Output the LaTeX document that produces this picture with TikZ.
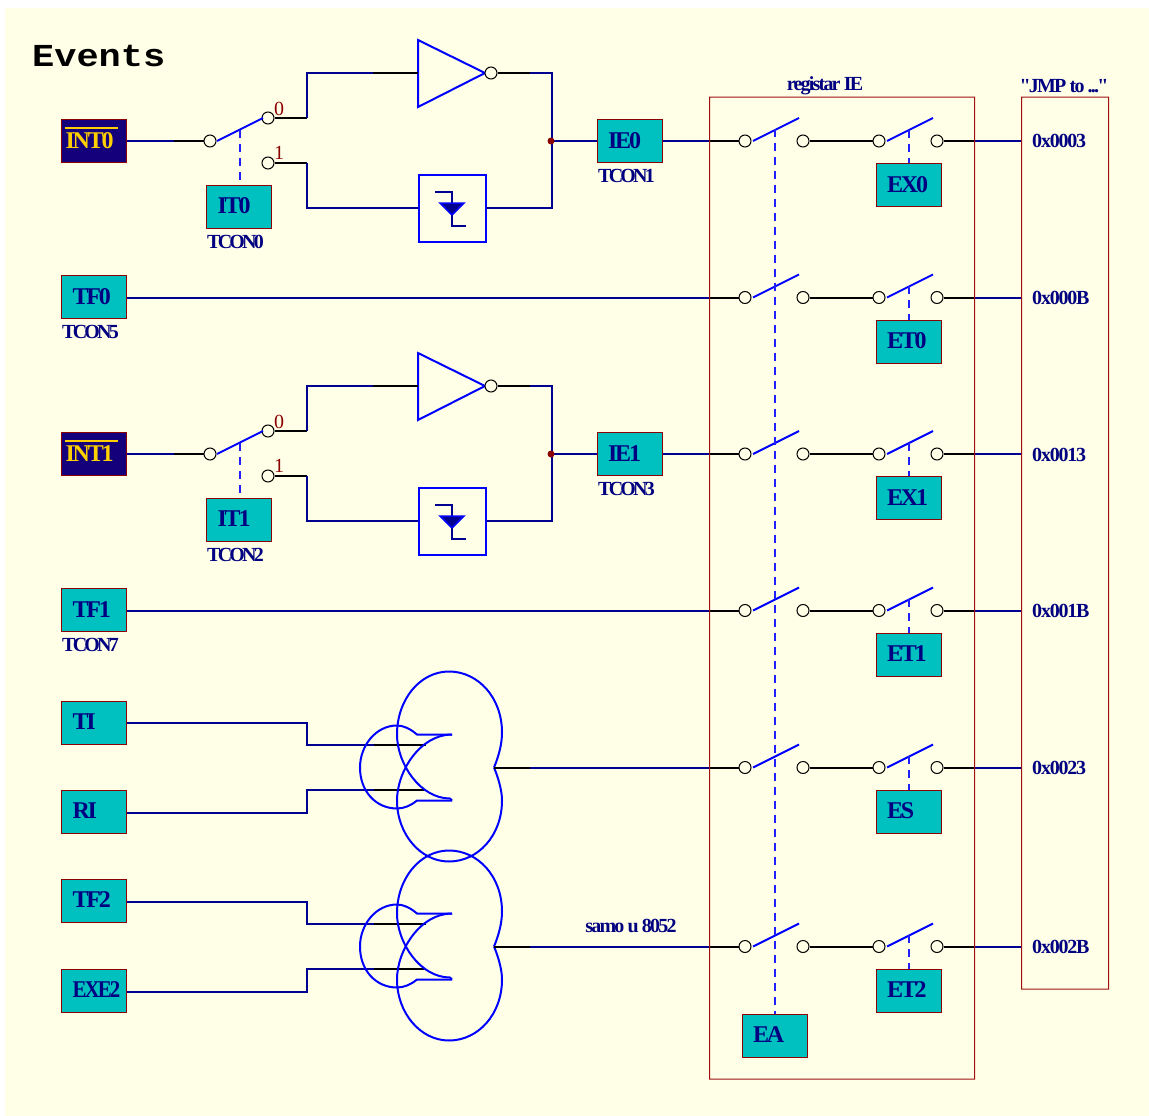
\documentclass[tikz,border=0pt]{standalone}
\usepackage{fontspec}
\usepackage{graphicx}
\setmainfont{Liberation Serif}
\newfontfamily\boxfont[LetterSpace=-9]{Liberation Serif}
\newfontfamily\smallfont[LetterSpace=-14]{Liberation Serif}
\newfontfamily\medfont[LetterSpace=-9]{Liberation Serif}
\newfontfamily\addrfont[LetterSpace=-6]{Liberation Serif}
\newfontfamily\titlefont{Liberation Mono}
\definecolor{bgy}{HTML}{FFFFE8}
\definecolor{nv}{HTML}{000090}
\definecolor{bl}{HTML}{0000FF}
\definecolor{dashc}{HTML}{2020FF}
\definecolor{dr}{HTML}{8B0000}
\definecolor{framec}{HTML}{A01010}
\definecolor{tl}{HTML}{00C0C0}
\definecolor{ink}{HTML}{000080}
\definecolor{deep}{HTML}{14007A}
\definecolor{yl}{HTML}{FFD000}
\tikzset{
 evbox/.style={draw=dr,line width=1pt,fill=tl,minimum width=65pt,minimum height=43pt,inner sep=0pt,
   font=\boxfont\bfseries\fontsize{24}{24}\selectfont,text=ink},
 intbox/.style={evbox,fill=deep,text=yl},
 lab/.style={font=\smallfont\bfseries\fontsize{20}{20}\selectfont,text=ink,inner sep=0pt},
 medlab/.style={lab,font=\medfont\bfseries\fontsize{20}{20}\selectfont},
 addrlab/.style={lab,font=\addrfont\bfseries\fontsize{20}{20}\selectfont},
 redlab/.style={font=\fontsize{20}{20}\selectfont,text=dr,inner sep=0pt},
 term/.style={circle,draw=black,line width=1pt,fill=bgy,minimum size=12pt,inner sep=0pt},
 wire/.style={draw=nv,line width=2pt,line join=miter},
 bwire/.style={draw=black,line width=2pt},
 blade/.style={draw=bl,line width=2pt},
 ctl/.style={draw=dashc,line width=1.2pt,dash pattern=on 8pt off 6pt},
 gate/.style={draw=bl,line width=2pt},
 framefill/.style={fill=framec,even odd rule},
}
\newcommand{\bx}[5][evbox]{% style, name, cx, cy, text
 \node[#1,text width=53pt,align=left,inner xsep=6pt,text depth=0pt] (#2) at (#3,#4) {\hspace*{5pt}\raisebox{1pt}{#5}};}
\newcommand{\row}[3]{% name, y, enable text
 \node[term] (#1a) at (745,#2) {};
 \node[term] (#1b) at (803,#2) {};
 \node[term] (#1c) at (879,#2) {};
 \node[term] (#1d) at (937,#2) {};
 \draw[blade] (753,#2) -- ++(46,-23) coordinate[pos=.5] (#1m1);
 \draw[blade] (887,#2) -- ++(46,-23) coordinate[pos=.5] (#1m2);
 \bx{#1en}{908.5}{#2+44}{#3}
 \draw[bwire] (#1b.east) -- (#1c.west);
 \draw[bwire] (#1d.east) -- (975,#2) coordinate (#1o);
 \draw[wire] (#1o) -- (1021,#2);
 \draw[bwire] (709,#2) coordinate (#1i) -- (#1a.west);
}
\newcommand{\logic}[7]{% prefix, y, int text, mode text, TCON, IE text, TCON2
 \pgfmathsetmacro{\yy}{#2}
 \node[term] (#1s) at (210,\yy) {};
 \node[term] (#1z) at (268,\yy-23) {};
 \node[term] (#1o) at (268,\yy+22) {};
 \node[redlab] (#1zl) at (279,\yy-32) {0};
 \node[redlab] (#1ol) at (279,\yy+12) {1};
 \draw[blade] (217,\yy) -- (263,\yy-23) coordinate[pos=.5] (#1m);
 \bx{#1mode}{239}{\yy+65.5}{#4}
 \node[lab,anchor=north west] (#1mt) at (207,\yy+94) {#5};
 \draw[ctl] (240,\yy-11) -- (240,\yy+44);
 \bx[intbox]{#1int}{94}{\yy}{\hspace*{-7pt}#3}
 \draw[wire] (#1int.east) -- ++(47,0) coordinate (#1c1);
 \draw[bwire] (#1c1) -- (#1s.west);
 \coordinate (#1t) at (418,\yy-68);
 \draw[gate] (418,\yy-101) -- (485,\yy-68) -- (418,\yy-34) -- cycle;
 \node[term] (#1n) at (491,\yy-68) {};
 \draw[bwire] (#1z.east) -- ++(32.5,0) coordinate (#1c2);
 \draw[wire] (#1c2) |- (373,\yy-68) coordinate (#1c3);
 \draw[bwire] (#1c3) -- (#1t);
 \draw[bwire] (#1n.east) -- ++(32,0) coordinate (#1c4);
 \coordinate (#1j) at (552,\yy);
 \draw[wire] (#1c4) -| (#1j);
 \node[draw=bl,line width=2pt,fill=bgy,minimum size=67pt,inner sep=0pt] (#1h) at (452,\yy+67) {};
 \draw[bwire] (#1o.east) -- ++(32.5,0) coordinate (#1c5);
 \draw[wire] (#1c5) |- (#1h.west);
 \draw[wire] (#1h.east) -| (#1j);
 \draw[draw=nv,line width=1.5pt] (435,\yy+51) -- (452,\yy+51) -- (452,\yy+62);
 \draw[draw=bl,fill=nv,line width=1.5pt,line join=miter] (440,\yy+62) -- (464,\yy+62) -- (452,\yy+74) -- cycle;
 \draw[draw=nv,line width=1.5pt] (452,\yy+74) -- (452,\yy+85) -- (466,\yy+85);
 \bx{#1ie}{629.5}{\yy}{#6}
 \node[lab,anchor=north west] (#1it) at (598,\yy+28) {#7};
 \draw[wire] (#1j) -- (#1ie.west);
 \fill[dr] (551,\yy) circle (3.5pt);
}
\newcommand{\orgate}[2]{% prefix, y
 \pgfmathsetmacro{\yy}{#2}
 \coordinate (#1tip) at (494,\yy);
 \draw[gate] (#1tip) .. controls (499,\yy-12) and (502,\yy-24) .. (502,\yy-35)
   .. controls (502,\yy-70) and (478,\yy-96) .. (449,\yy-96)
   .. controls (420,\yy-96) and (397,\yy-68) .. (397,\yy-33)
   .. controls (397,\yy-4) and (420,\yy+31) .. (450,\yy+31) -- (452,\yy+33);
 \draw[gate] (#1tip) .. controls (499,\yy+12) and (502,\yy+24) .. (502,\yy+33)
   .. controls (502,\yy+68) and (478,\yy+94) .. (449,\yy+94)
   .. controls (420,\yy+94) and (397,\yy+66) .. (397,\yy+33)
   .. controls (397,\yy+4) and (420,\yy-33) .. (452,\yy-33);
 \draw[gate] (452,\yy-33) -- (417,\yy-33)
   .. controls (410,\yy-39) and (403,\yy-42) .. (397,\yy-42)
   .. controls (376,\yy-42) and (360,\yy-22) .. (360,\yy)
   .. controls (360,\yy+24) and (376,\yy+41) .. (397,\yy+41)
   .. controls (404,\yy+41) and (411,\yy+38) .. (417,\yy+33) -- (452,\yy+33);
}
\begin{document}
\begin{tikzpicture}[x=1pt,y=-1pt]
\useasboundingbox (0,0) rectangle (1149,1116);
\fill[white] (0,0) rectangle (1149,1116);
\fill[bgy] (5,8) rectangle (1149,1116);
\node[font=\titlefont\bfseries\fontsize{32}{32}\selectfont,anchor=west,inner sep=0pt] (title) at (32,56) {\scalebox{1.155}[1]{Events}};

\node[medlab] (regl) at (825,86) {registar IE};
\node[medlab] (jmpl) at (1064,86) {"JMP to ..."};

\row{ra}{141}{EX0}
\row{rb}{297.5}{ET0}
\row{rc}{454}{EX1}
\row{rd}{610.5}{ET1}
\row{re}{767.5}{ES}
\row{rf}{946.5}{ET2}

\bx{ea}{774.5}{1035.5}{EA}

\logic{u}{141}{INT0}{IT0}{TCON0}{IE0}{TCON1}
\logic{v}{454}{INT1}{IT1}{TCON2}{IE1}{TCON3}
\draw[yl,line width=1.5pt] (65,128) -- (118,128);
\draw[yl,line width=1.5pt] (65,441) -- (118,441);

\draw[wire] (uie.east) -- (rai);
\draw[wire] (vie.east) -- (rci);

\bx{tf0}{94}{297}{TF0}
\node[lab,anchor=north west] (tf0t) at (62,325) {TCON5};
\draw[wire] (tf0.east |- rbi) -- (rbi);
\bx{tf1}{94}{610}{TF1}
\node[lab,anchor=north west] (tf1t) at (62,638) {TCON7};
\draw[wire] (tf1.east |- rdi) -- (rdi);

\bx{ti}{94}{722.5}{TI}
\bx{ri}{94}{811.5}{RI}
\bx{tf2}{94}{900.5}{TF2}
\bx{exe}{94}{990.5}{\scalebox{.87}[1]{EXE2}}

\coordinate (g1a) at (374,745); \coordinate (g1b) at (374,790);
\coordinate (g2a) at (374,924); \coordinate (g2b) at (374,969);
\draw[wire] ([yshift=-0.5pt]ti.east) -- ++(180,0) |- (g1a);
\draw[wire] ([yshift=-1pt]ri.east) -- ++(180,0) |- (g1b);
\draw[wire] ([yshift=-1.5pt]tf2.east) -- ++(180,0) |- (g2a);
\draw[wire] ([yshift=-1pt]exe.east) -- ++(180,0) |- (g2b);
\draw[bwire] (g1a) -- ++(52,0);
\draw[bwire] (g1b) -- ++(52,0);
\draw[bwire] (g2a) -- ++(52,0);
\draw[bwire] (g2b) -- ++(52,0);

\orgate{p}{767.5}
\orgate{q}{946.5}

\draw[bwire] (ptip) -- ++(36,0) coordinate (p1);
\draw[wire] (p1) -- (rei);
\draw[bwire] (qtip) -- ++(36,0) coordinate (q1);
\draw[wire] (q1) -- (rfi);
\node[medlab] (samo) at (631,926) {samo u 8052};

\foreach \n/\y/\t in {ra/141/0x0003,rb/298/0x000B,rc/455/0x0013,rd/611/0x001B,re/768/0x0023,rf/947/0x002B}{
 \node[addrlab,anchor=west] (addr\n) at (1032,\y) {\t};
}

\fill[framefill] (709,96.5) rectangle (975,1079.5) (710,97.5) rectangle (974,1078.5);
\fill[framefill] (1021,96.5) rectangle (1109,989.5) (1022,97.5) rectangle (1108,988.5);
\draw[ctl] (775,129) -- (ea.north -| 775,129);
\foreach \n in {ra,rb,rc,rd,re,rf}{
 \draw[ctl] ([xshift=.5pt]\n m2 -| \n en.north) -- ([xshift=.5pt]\n en.north);
}
\end{tikzpicture}
\end{document}
